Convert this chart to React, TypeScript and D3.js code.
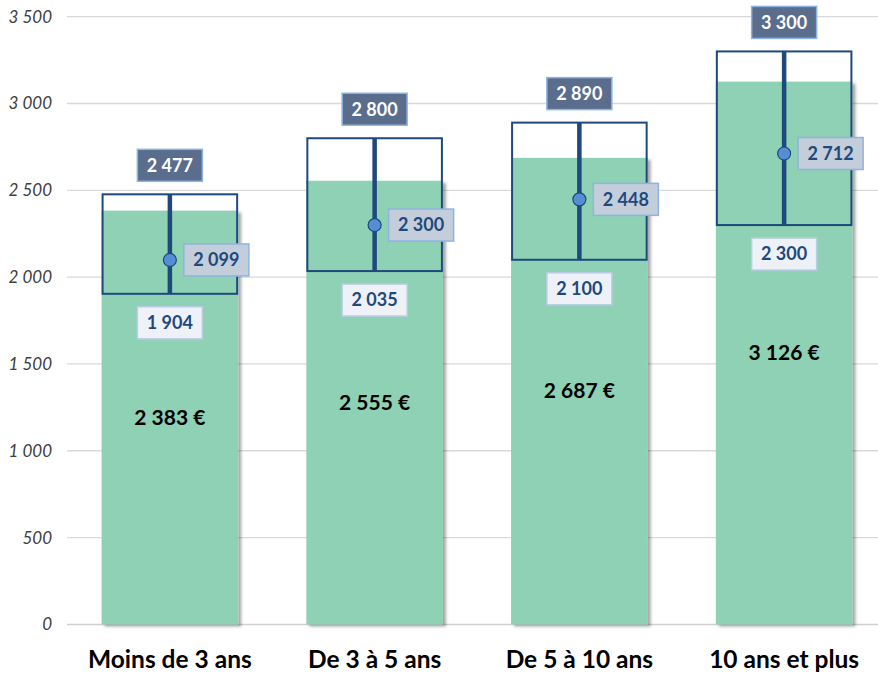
import React from "react";
import * as d3 from "d3";

const categories = ["Moins de 3 ans", "De 3 à 5 ans", "De 5 à 10 ans", "10 ans et plus"];
const meanValues = [2383, 2555, 2687, 3126];
const q1Values = [1904, 2035, 2100, 2300];
const medianValues = [2099, 2300, 2448, 2712];
const q3Values = [2477, 2800, 2890, 3300];
const yTicks = [0, 500, 1000, 1500, 2000, 2500, 3000, 3500];

const W = 878;
const H = 675;
const FONT = "Lato, 'Open Sans', sans-serif";

const locale = d3.formatLocale({ decimal: ",", thousands: "\u00A0", grouping: [3], currency: ["", " €"] });
const fmt = locale.format(",d");

export default function App() {
  const x = d3.scaleBand<string>().domain(categories).range([67.5, 886.5]).paddingInner(0.333).paddingOuter(0.1665);
  const y = d3.scaleLinear().domain([0, 3500]).range([624.4, 16.7]);
  const bw = x.bandwidth();
  const data = categories.map((c, i) => ({
    c,
    mean: meanValues[i],
    q1: q1Values[i],
    med: medianValues[i],
    q3: q3Values[i],
  }));
  const labW = 65;
  const labH = 32;
  return (
    <svg width={W} height={H} style={{ position: "fixed", left: 0, top: 0, display: "block", background: "#fff" }}>
      <defs>
        <filter id="shadow" x="-10%" y="-10%" width="130%" height="130%">
          <feDropShadow dx="3" dy="2" stdDeviation="1.6" floodColor="#000" floodOpacity="0.35" />
        </filter>
      </defs>
      {yTicks.map((t) => (
        <g key={t}>
          <line x1={67} x2={W} y1={y(t)} y2={y(t)} stroke={t === 0 ? "#d0d0d0" : "#d9d9d9"} strokeWidth={t === 0 ? 1.5 : 1.3} />
          <text x={52} y={y(t)} dy="0.35em" textAnchor="end" fontFamily={FONT} fontStyle="italic" fontSize={17} fill="#404040">
            {fmt(t)}
          </text>
        </g>
      ))}
      {data.map((d) => {
        const x0 = x(d.c)!;
        const cx = x0 + bw / 2;
        return (
          <g key={d.c}>
            <rect x={x0} y={y(d.mean)} width={bw} height={y(0) - y(d.mean)} fill="#8ED1B4" filter="url(#shadow)" />
            <text x={cx} y={(y(d.mean) + y(0)) / 2} dy="0.35em" textAnchor="middle" fontFamily={FONT} fontWeight="bold" fontSize={21} fill="#000">
              {fmt(d.mean)}{"\u00A0"}€
            </text>
          </g>
        );
      })}
      {data.map((d) => {
        const x0 = x(d.c)!;
        const cx = x0 + bw / 2;
        return (
          <g key={d.c + "box"}>
            <rect x={x0 + 1} y={y(d.q3)} width={bw - 2} height={y(d.q1) - y(d.q3)} fill="none" stroke="#1F497D" strokeWidth={2} />
            <line x1={cx} x2={cx} y1={y(d.q3)} y2={y(d.q1)} stroke="#1F497D" strokeWidth={4.5} />
            <circle cx={cx} cy={y(d.med)} r={6.5} fill="#558ED5" stroke="#1F497D" strokeWidth={1.2} />
            <rect x={cx - labW / 2} y={y(d.q3) - 29 - labH / 2} width={labW} height={labH} fill="#5A6D8C" stroke="#8DB4E2" strokeWidth={1.5} />
            <text x={cx} y={y(d.q3) - 29} dy="0.35em" textAnchor="middle" fontFamily={FONT} fontWeight="bold" fontSize={18} fill="#fff">
              {fmt(d.q3)}
            </text>
            <rect x={cx - labW / 2} y={y(d.q1) + 29 - labH / 2} width={labW} height={labH} fill="#EEF1F7" stroke="#B9CDE5" strokeWidth={1.5} />
            <text x={cx} y={y(d.q1) + 29} dy="0.35em" textAnchor="middle" fontFamily={FONT} fontWeight="bold" fontSize={18} fill="#1F497D">
              {fmt(d.q1)}
            </text>
            <rect x={cx + 14} y={y(d.med) - labH / 2} width={labW} height={labH} fill="#C4CDDA" stroke="#8DB4E2" strokeWidth={1.5} />
            <text x={cx + 14 + labW / 2} y={y(d.med)} dy="0.35em" textAnchor="middle" fontFamily={FONT} fontWeight="bold" fontSize={18} fill="#1F497D">
              {fmt(d.med)}
            </text>
          </g>
        );
      })}
      {categories.map((c) => (
        <text key={c + "lab"} x={x(c)! + bw / 2} y={668} textAnchor="middle" fontFamily={FONT} fontWeight="bold" fontSize={24.5} fill="#000">
          {c}
        </text>
      ))}
    </svg>
  );
}
